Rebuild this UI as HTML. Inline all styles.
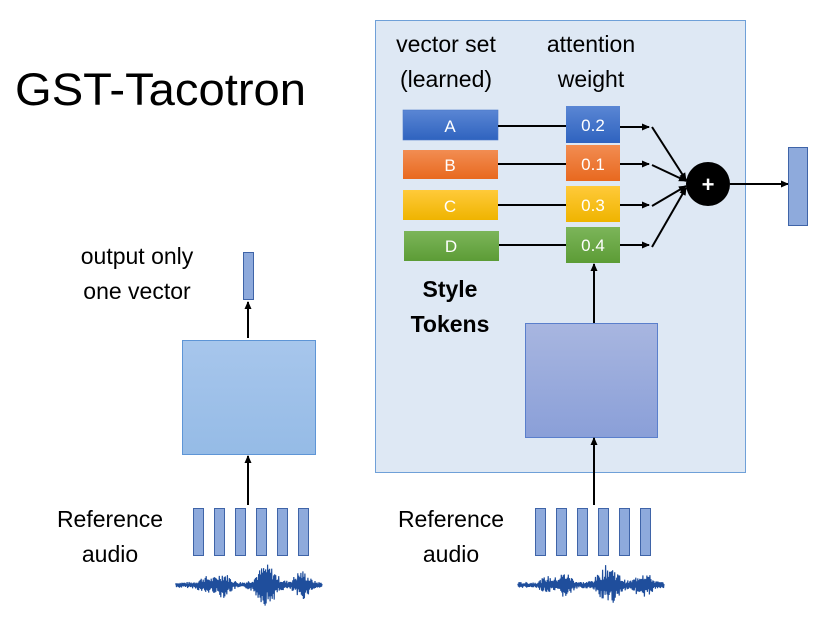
<!DOCTYPE html>
<html><head><meta charset="utf-8"><style>
html,body{margin:0;padding:0;background:#fff;}
svg{display:block;font-family:"Liberation Sans",sans-serif;}
</style></head><body>
<svg id="s" width="826" height="626" viewBox="0 0 826 626" xmlns="http://www.w3.org/2000/svg">
<defs>
<marker id="ar" markerWidth="8" markerHeight="8" refX="7" refY="4" orient="auto" markerUnits="userSpaceOnUse"><path d="M0,0.5 L8,4 L0,7.5 z" fill="#000"/></marker>
<linearGradient id="gA" x1="0" y1="0" x2="0" y2="1"><stop offset="0" stop-color="#5a86d4"/><stop offset="1" stop-color="#2f63bf"/></linearGradient>
<linearGradient id="gB" x1="0" y1="0" x2="0" y2="1"><stop offset="0" stop-color="#f28d52"/><stop offset="1" stop-color="#e8691f"/></linearGradient>
<linearGradient id="gC" x1="0" y1="0" x2="0" y2="1"><stop offset="0" stop-color="#ffca3a"/><stop offset="1" stop-color="#efb400"/></linearGradient>
<linearGradient id="gD" x1="0" y1="0" x2="0" y2="1"><stop offset="0" stop-color="#7cb55a"/><stop offset="1" stop-color="#5c9c36"/></linearGradient>
<linearGradient id="gE" x1="0" y1="0" x2="0" y2="1"><stop offset="0" stop-color="#a8b6e0"/><stop offset="1" stop-color="#8a9fd8"/></linearGradient>
<linearGradient id="gF" x1="0" y1="0" x2="0" y2="1"><stop offset="0" stop-color="#a7c6ec"/><stop offset="1" stop-color="#95bbe6"/></linearGradient>
</defs>

<text x="15" y="105" font-size="45" textLength="291" lengthAdjust="spacingAndGlyphs">GST-Tacotron</text>

<rect x="375.5" y="20.5" width="370" height="452" fill="#dee8f4" stroke="#6fa0d8" stroke-width="1"/>

<g font-size="23" text-anchor="middle">
<text x="446" y="52">vector set</text>
<text x="446" y="87">(learned)</text>
<text x="591" y="52">attention</text>
<text x="591" y="87">weight</text>
<text x="450" y="297" font-weight="bold">Style</text>
<text x="450" y="332" font-weight="bold">Tokens</text>
<text x="137" y="264">output only</text>
<text x="137" y="299">one vector</text>
<text x="248" y="389">Feature</text>
<text x="248" y="424">Extractor</text>
<text x="591" y="390">Encoder</text>
<text x="110" y="527">Reference</text>
<text x="110" y="562">audio</text>
<text x="451" y="527">Reference</text>
<text x="451" y="562">audio</text>
</g>

<!-- tokens -->
<rect x="403" y="110" width="95" height="30" fill="url(#gA)" stroke="#4a78c8" stroke-width="0.6"/>
<rect x="403" y="150" width="95" height="29" fill="url(#gB)"/>
<rect x="403" y="190" width="95" height="30" fill="url(#gC)"/>
<rect x="404" y="231" width="95" height="30" fill="url(#gD)"/>
<g fill="#fff" font-size="17" text-anchor="middle">
<text x="450" y="132">A</text><text x="450" y="171">B</text><text x="450" y="212">C</text><text x="451" y="252">D</text>
</g>
<!-- token -> weight lines -->
<g stroke="#000" stroke-width="2">
<line x1="498" y1="126" x2="566" y2="126"/>
<line x1="498" y1="164" x2="566" y2="164"/>
<line x1="498" y1="205" x2="566" y2="205"/>
<line x1="499" y1="245" x2="566" y2="245"/>
</g>
<rect x="566" y="106" width="54" height="37" fill="url(#gA)"/>
<rect x="566" y="145" width="54" height="36" fill="url(#gB)"/>
<rect x="566" y="186" width="54" height="36" fill="url(#gC)"/>
<rect x="566" y="227" width="54" height="36" fill="url(#gD)"/>
<g fill="#fff" font-size="17" text-anchor="middle">
<text x="593" y="131">0.2</text><text x="593" y="170">0.1</text><text x="593" y="211">0.3</text><text x="593" y="251">0.4</text>
</g>
<g stroke="#000" stroke-width="2" marker-end="url(#ar)">
<line x1="620" y1="127" x2="649" y2="127"/>
<line x1="620" y1="164" x2="649" y2="164"/>
<line x1="620" y1="205" x2="649" y2="205"/>
<line x1="620" y1="245" x2="649" y2="245"/>
</g>
<g stroke="#000" stroke-width="2" marker-end="url(#ar)">
<line x1="652" y1="127" x2="686" y2="180"/>
<line x1="652" y1="165" x2="686" y2="181"/>
<line x1="652" y1="206" x2="686" y2="186"/>
<line x1="652" y1="247" x2="686" y2="188"/>
</g>
<circle cx="708" cy="184" r="22" fill="#000"/>
<text x="708" y="192" fill="#fff" font-size="22" font-weight="bold" text-anchor="middle">+</text>
<line x1="730" y1="184" x2="788" y2="184" stroke="#000" stroke-width="2" marker-end="url(#ar)"/>
<rect x="788.5" y="147.5" width="19" height="78" fill="#8eaadc" stroke="#3f64a8" stroke-width="1"/>

<!-- encoder -->
<rect x="525.5" y="323.5" width="132" height="114" fill="url(#gE)" stroke="#5a7fcc" stroke-width="1"/>
<line x1="594" y1="323" x2="594" y2="264" stroke="#000" stroke-width="2" marker-end="url(#ar)"/>
<line x1="594" y1="505" x2="594" y2="438" stroke="#000" stroke-width="2" marker-end="url(#ar)"/>

<!-- feature extractor -->
<rect x="182.5" y="340.5" width="133" height="114" fill="url(#gF)" stroke="#5e95d6" stroke-width="1"/>
<line x1="248" y1="505" x2="248" y2="456" stroke="#000" stroke-width="2" marker-end="url(#ar)"/>
<line x1="248" y1="338" x2="248" y2="302" stroke="#000" stroke-width="2" marker-end="url(#ar)"/>
<rect x="243.5" y="252.5" width="10" height="47" fill="#8eaadc" stroke="#3f64a8" stroke-width="1"/>

<g id="bars" fill="#8eaadc" stroke="#3f64a8" stroke-width="1"></g>
<g id="wave" fill="none" stroke="#1f4e9c" stroke-width="1.2"></g>
</svg>
<script>
(function(){
var ns="http://www.w3.org/2000/svg";
var bars=document.getElementById("bars"),wave=document.getElementById("wave");
[[193],[535]].forEach(function(o){
 for(var i=0;i<6;i++){var r=document.createElementNS(ns,"rect");
  r.setAttribute("x",o[0]+i*21+0.5);r.setAttribute("y",508.5);r.setAttribute("width",10);r.setAttribute("height",47);bars.appendChild(r);}
});
var seed=7;function rnd(){seed=(seed*9301+49297)%233280;return seed/233280;}
function env(t){ // t 0..1
 var e=3+10*Math.exp(-Math.pow((t-0.32)/0.06,2))+18*Math.exp(-Math.pow((t-0.62)/0.08,2))+12*Math.exp(-Math.pow((t-0.86)/0.06,2))+6*Math.exp(-Math.pow((t-0.2)/0.05,2));
 return e;}
[176,518].forEach(function(x0){
 var d="M"+x0+",585";
 for(var k=0;k<=290;k++){var t=k/290;var x=x0+t*146;var a=env(t)*(0.3+0.7*rnd());var y=585+(k%2?a:-a);d+=" L"+x.toFixed(1)+","+y.toFixed(1);}
 var p=document.createElementNS(ns,"path");p.setAttribute("d",d);wave.appendChild(p);
});
})();
</script>
</body></html>
